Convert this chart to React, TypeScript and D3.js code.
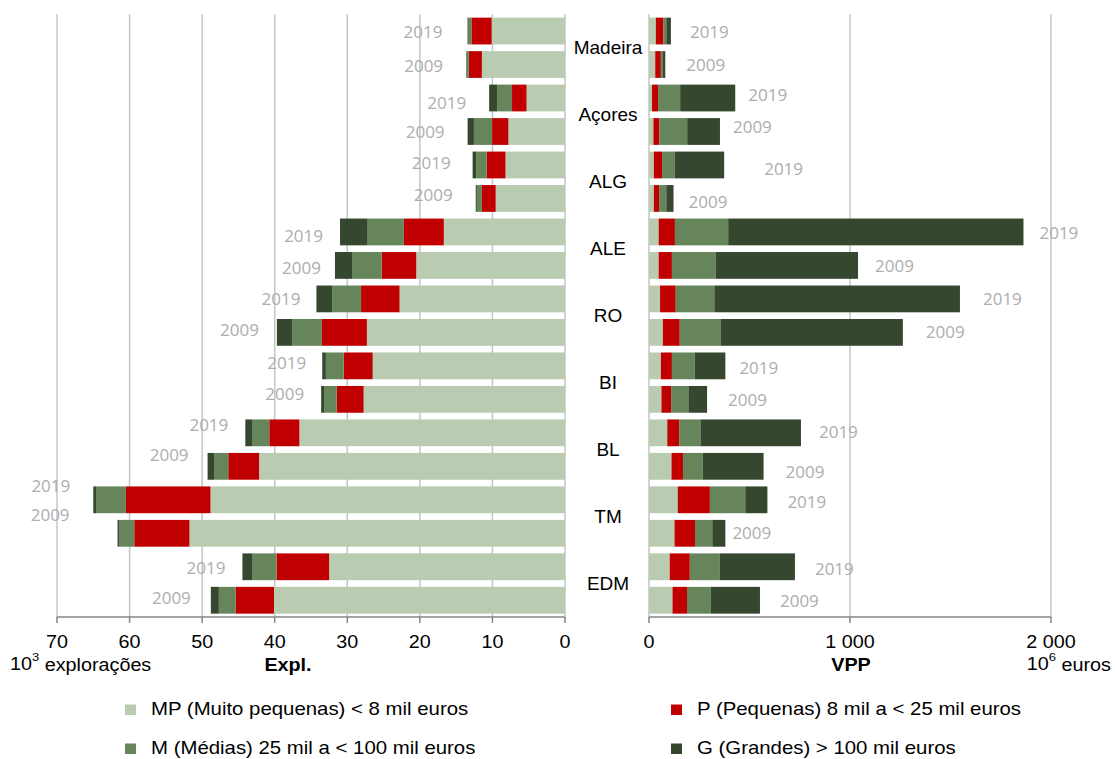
import React from "react";
import * as d3 from "d3";

// ---- data ----
const regions = ["Madeira", "Açores", "ALG", "ALE", "RO", "BI", "BL", "TM", "EDM"];
const years = ["2019", "2009"];
const seriesNames = [
  "MP (Muito pequenas) < 8 mil euros",
  "P (Pequenas) 8 mil a < 25 mil euros",
  "M (Médias) 25 mil a < 100 mil euros",
  "G (Grandes) > 100 mil euros",
];
// Explorações (10^3), order: region x year (2019, 2009)
const explMP = [10.1, 11.45, 5.3, 7.8, 8.2, 9.55, 16.7, 20.5, 22.8, 27.3, 26.5, 27.75, 36.6, 42.15, 48.85, 51.75, 32.5, 40.1];
const explP = [2.8, 1.8, 2.0, 2.25, 2.6, 1.9, 5.5, 4.75, 5.3, 6.2, 4.0, 3.7, 4.15, 4.25, 11.65, 7.6, 7.25, 5.3];
const explM = [0.5, 0.35, 2.05, 2.5, 1.43, 0.7, 5.0, 4.1, 3.95, 4.1, 2.45, 1.75, 2.3, 1.95, 4.05, 2.05, 3.3, 2.3];
const explG = [0.05, 0.03, 1.1, 0.87, 0.5, 0.15, 3.8, 2.35, 2.2, 2.1, 0.5, 0.4, 1.0, 0.9, 0.45, 0.25, 1.4, 1.1];
// VPP (10^6 euros)
const vppMP = [34, 31, 15, 22, 24, 24, 48, 48, 55, 69, 59, 62, 91, 112, 143, 127, 103, 117];
const vppP = [38, 28, 30, 30, 41, 26, 81, 66, 78, 84, 55, 48, 59, 57, 160, 102, 100, 72];
const vppM = [14, 8, 110, 138, 62, 36, 265, 217, 192, 205, 113, 86, 106, 98, 176, 86, 148, 117];
const vppG = [23, 14, 274, 163, 247, 36, 1469, 709, 1222, 905, 153, 93, 500, 303, 110, 65, 375, 246];
const explTicks = [70, 60, 50, 40, 30, 20, 10, 0];
const vppTicks = [0, 1000, 2000];

// ---- layout ----
const colors = ["#B9CBB1", "#C00000", "#66855A", "#35472E"];
const leftLabelGap = [25, 23, 23, 23, 22, 23, 17, 14, 16, 18, 16, 17, 17, 19, 23, 48, 17, 20];
const leftLabelDy = [0, 0.5, 4, 0.5, -2, -3.5, 4, 2.5, 0, -2.5, -3, -5.5, -8, -11.5, -14, -18.5, 1, -2.5];
const rightLabelGap = [19, 21, 13, 13, 40, 15, 16, 17, 23, 23, 14, 21, 18, 22, 20, 7, 20, 20];
const rightLabelDy = [0, 0, -4, -5, 4, 3, 1, 0, 0, -1, 2, 0, -1, 5, 2, -1, 2, 0];

const W = 1115, H = 759;
const top = 14.3, bottom = 617;
const arial = "'Liberation Sans', Arial, sans-serif";

function SText(props: { x: number; y: number; anchor?: string; size?: number; weight?: string; sx?: number; children: any }) {
  const { x, y, anchor = "start", size = 17.5, weight = "normal", sx = 1.13, children } = props;
  return (
    <text
      transform={`translate(${x},${y}) scale(${sx},1)`}
      textAnchor={anchor as any}
      dominantBaseline="central"
      fontFamily={arial}
      fontSize={size}
      fontWeight={weight}
      fill="#000"
    >
      {children}
    </text>
  );
}

export default function App() {
  const keys: string[] = [];
  regions.forEach((r) => years.forEach((y) => keys.push(r + "|" + y)));
  const y = d3.scaleBand<string>().domain(keys).range([top, bottom]).paddingInner(0.2).paddingOuter(0.1);
  const xL = d3.scaleLinear().domain([0, 70]).range([565, 57]);
  const xR = d3.scaleLinear().domain([0, 2000]).range([649, 1051]);
  const expl = [explMP, explP, explM, explG];
  const vpp = [vppMP, vppP, vppM, vppG];
  const idx = keys.map((_, i) => i);
  const stackL = d3.stack<number, number>().keys([0, 1, 2, 3]).value((i: number, k: number) => expl[k][i])(idx);
  const stackR = d3.stack<number, number>().keys([0, 1, 2, 3]).value((i: number, k: number) => vpp[k][i])(idx);
  const bw = y.bandwidth();
  const yearFont = "'Open Sans', sans-serif";
  const fmt = (v: number) => d3.format(",")(v).replace(/,/g, " ");

  return (
    <svg width={W} height={H} style={{ position: "absolute", left: 0, top: 0, background: "#fff" }}>
      {/* gridlines */}
      {explTicks.map((t) => (
        <line key={"gl" + t} x1={xL(t)} x2={xL(t)} y1={top} y2={bottom} stroke="#C4C4C4" strokeWidth={1.5} />
      ))}
      {vppTicks.map((t) => (
        <line key={"gr" + t} x1={xR(t)} x2={xR(t)} y1={top} y2={bottom} stroke="#C4C4C4" strokeWidth={1.5} />
      ))}
      {/* left bars */}
      {stackL.map((s, si) =>
        s.map((d, i) => (
          <rect key={"l" + si + "-" + i} x={xL(d[1])} width={Math.max(0, xL(d[0]) - xL(d[1]))} y={y(keys[i])} height={bw} fill={colors[si]} />
        ))
      )}
      {/* right bars */}
      {stackR.map((s, si) =>
        s.map((d, i) => (
          <rect key={"r" + si + "-" + i} x={xR(d[0])} width={Math.max(0, xR(d[1]) - xR(d[0]))} y={y(keys[i])} height={bw} fill={colors[si]} />
        ))
      )}
      {/* year labels */}
      {keys.map((k, i) => {
        const cy = (y(k) as number) + bw / 2;
        const endL = xL(stackL[3][i][1]);
        const endR = xR(stackR[3][i][1]);
        const yr = k.split("|")[1];
        return (
          <g key={"yl" + i} fontFamily={yearFont} fontSize={17} fill="#ADADAD">
            <text x={endL - leftLabelGap[i]} y={cy + leftLabelDy[i]} textAnchor="end" dominantBaseline="central">{yr}</text>
            <text x={endR + rightLabelGap[i]} y={cy + rightLabelDy[i]} textAnchor="start" dominantBaseline="central">{yr}</text>
          </g>
        );
      })}
      {/* region labels */}
      {regions.map((r) => {
        const cy = ((y(r + "|2019") as number) + (y(r + "|2009") as number) + bw) / 2;
        return (
          <text key={"rg" + r} x={608} y={cy} textAnchor="middle" dominantBaseline="central" fontFamily={arial} fontSize={19} fill="#000">{r}</text>
        );
      })}
      {/* axes */}
      <line x1={xL(70)} x2={xL(0)} y1={bottom} y2={bottom} stroke="#868686" strokeWidth={1.5} />
      {explTicks.map((t) => (
        <g key={"tl" + t}>
          <line x1={xL(t)} x2={xL(t)} y1={bottom} y2={bottom + 6} stroke="#868686" strokeWidth={1.5} />
          <SText x={xL(t)} y={642} anchor="middle">{t}</SText>
        </g>
      ))}
      <line x1={xR(0)} x2={xR(2000)} y1={bottom} y2={bottom} stroke="#868686" strokeWidth={1.5} />
      {vppTicks.map((t) => (
        <g key={"tr" + t}>
          <line x1={xR(t)} x2={xR(t)} y1={bottom} y2={bottom + 6} stroke="#868686" strokeWidth={1.5} />
          <SText x={xR(t)} y={642} anchor="middle">{fmt(t)}</SText>
        </g>
      ))}
      <SText x={10} y={664}>
        10<tspan dy={-7} fontSize={11.5}>3</tspan><tspan dy={7}> explorações</tspan>
      </SText>
      <SText x={288} y={665} anchor="middle" weight="bold">Expl.</SText>
      <SText x={851} y={665} anchor="middle" weight="bold">VPP</SText>
      <SText x={1111} y={664} anchor="end">
        10<tspan dy={-7} fontSize={11.5}>6</tspan><tspan dy={7}> euros</tspan>
      </SText>
      {/* legend */}
      {seriesNames.map((n, i) => {
        const lx = i % 2 === 0 ? 125 : 671;
        const ly = i < 2 ? 709.5 : 748.5;
        return (
          <g key={"lg" + i}>
            <rect x={lx} y={ly - 5} width={11} height={10.5} fill={colors[i]} />
            <SText x={lx + 26} y={ly} sx={1.165}>{n}</SText>
          </g>
        );
      })}
    </svg>
  );
}
